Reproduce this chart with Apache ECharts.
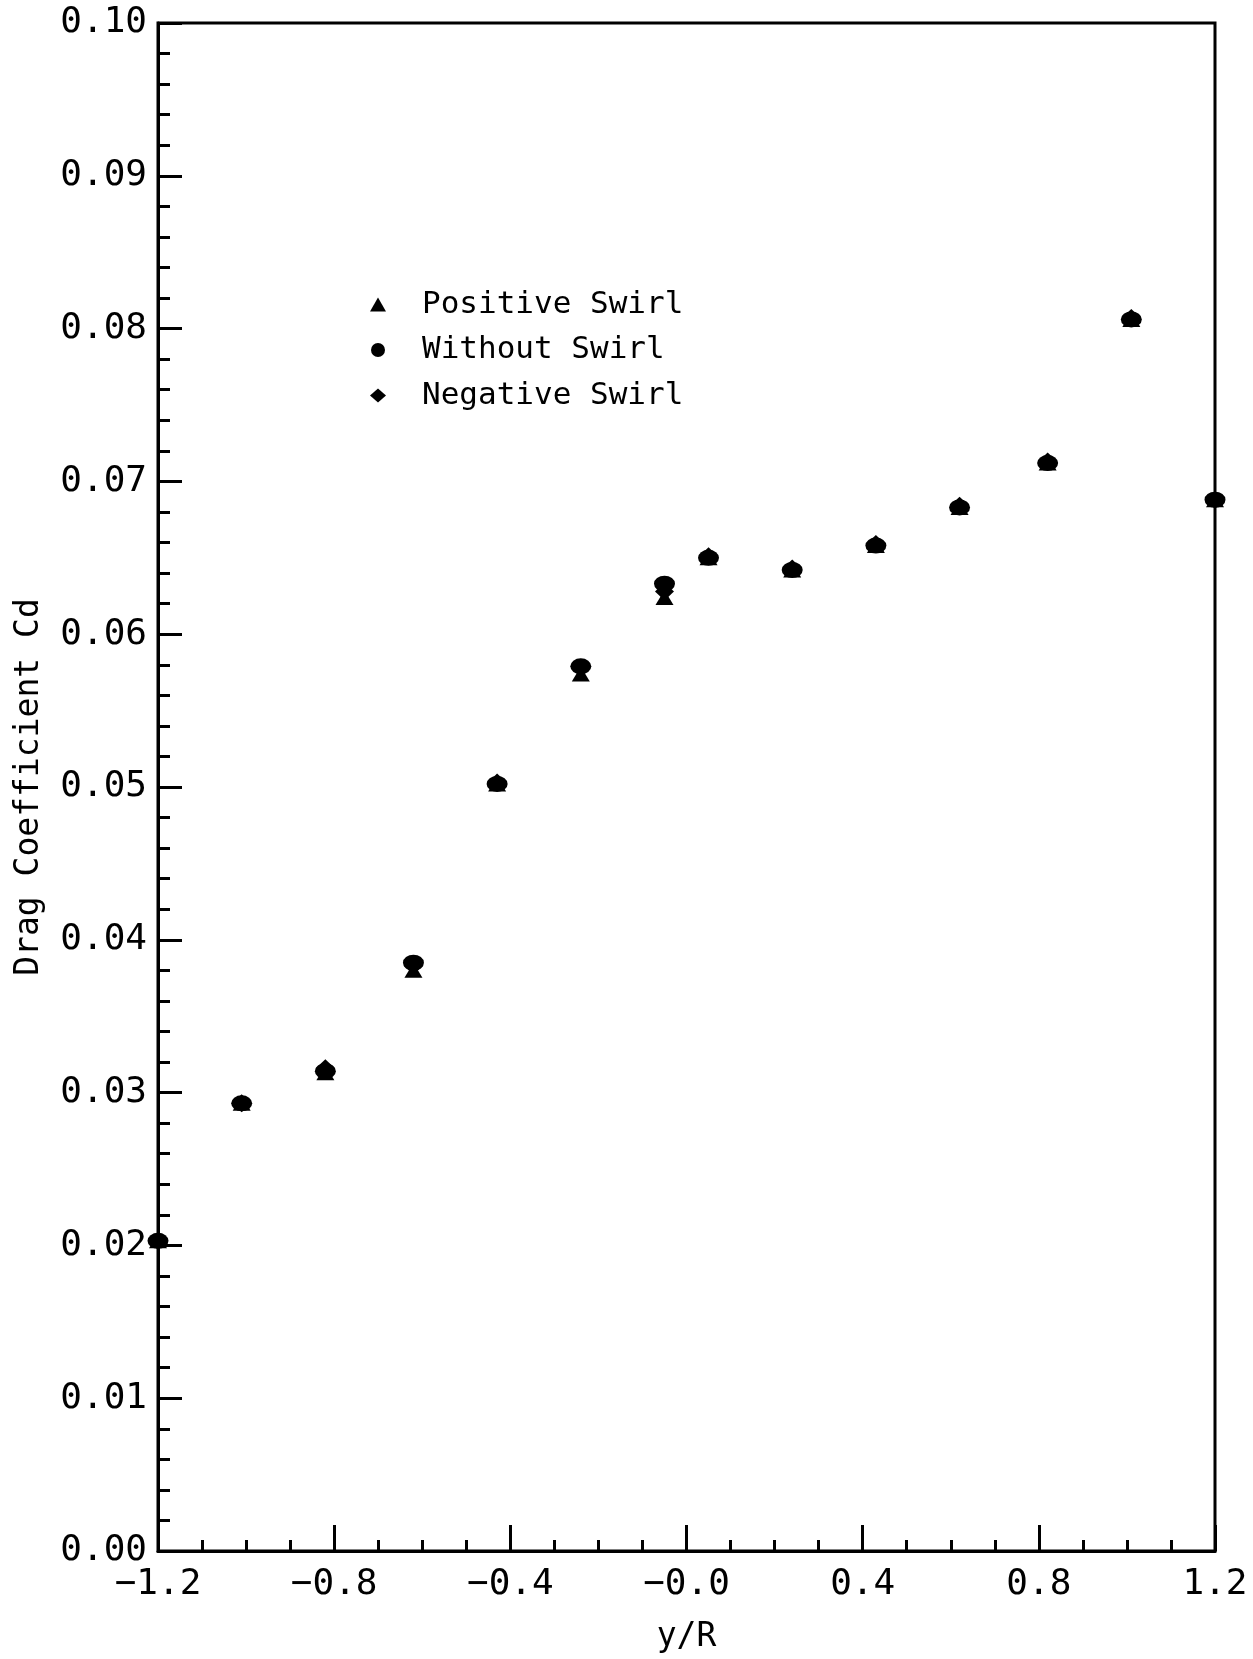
<!DOCTYPE html>
<html>
<head>
<meta charset="utf-8">
<script src="https://cdn.jsdelivr.net/npm/echarts@6/dist/echarts.min.js"></script>
<style>
html,body{margin:0;padding:0;background:#fff;}
#chart{width:1253px;height:1659px;}
</style>
</head>
<body>
<div id="chart"></div>
<script>
// Data
var yR = [-1.2, -1.01, -0.82, -0.62, -0.43, -0.24, -0.05, 0.05, 0.24, 0.43, 0.62, 0.82, 1.01, 1.2];
var positiveSwirl = [0.0203, 0.0293, 0.0313, 0.0380, 0.0502, 0.0574, 0.0624, 0.0650, 0.0642, 0.0658, 0.0683, 0.0712, 0.0806, 0.0688];
var withoutSwirl  = [0.0203, 0.0293, 0.0314, 0.0385, 0.0502, 0.0579, 0.0633, 0.0650, 0.0642, 0.0658, 0.0683, 0.0712, 0.0806, 0.0688];
var negativeSwirl = [0.0203, 0.0293, 0.0316, 0.0383, 0.0503, 0.0578, 0.0628, 0.0651, 0.0643, 0.0659, 0.0684, 0.0713, 0.0807, 0.0688];
var seriesNames = ['Positive Swirl', 'Without Swirl', 'Negative Swirl'];
var xTickLabels = {'-1.2':'\u22121.2','-0.8':'\u22120.8','-0.4':'\u22120.4','0.0':'\u22120.0','0.4':'0.4','0.8':'0.8','1.2':'1.2'};

function pairs(xs, ys){ return xs.map(function(x,i){ return [x, ys[i]]; }); }

var FONT = 'DejaVu Sans Mono';
var chart = echarts.init(document.getElementById('chart'), null, {renderer:'canvas'});
var option = {
  animation: false,
  backgroundColor: '#fff',
  grid: {left:158, top:23, right:38, bottom:103, show:true, borderColor:'#000', borderWidth:3, backgroundColor:'transparent'},
  legend: {
    orient:'vertical', left:365, top:284, itemGap:14.5, itemWidth:16, itemHeight:14,
    data: [
      {name: seriesNames[0], icon:'triangle'},
      {name: seriesNames[1], icon:'circle'},
      {name: seriesNames[2], icon:'diamond'}
    ],
    textStyle:{fontFamily:FONT, fontSize:31, color:'#000', lineHeight:30, padding:[0,0,0,31]}
  },
  xAxis: {
    type:'value', min:-1.2, max:1.2, interval:0.4,
    name:'y/R', nameLocation:'middle', nameGap:70,
    nameTextStyle:{fontFamily:FONT, fontSize:33, color:'#000'},
    axisLine:{onZero:false, lineStyle:{color:'#000', width:3}},
    axisTick:{inside:true, length:26, lineStyle:{color:'#000', width:3}},
    minorTick:{show:true, splitNumber:4, length:11, lineStyle:{color:'#000', width:3}},
    splitLine:{show:false},
    axisLabel:{fontFamily:FONT, fontSize:36, color:'#000', margin:16,
      formatter:function(v){ var k=(Math.round(v*10)/10).toFixed(1); if(k==='-0.0') k='0.0'; return xTickLabels[k]!==undefined?xTickLabels[k]:k; }}
  },
  yAxis: {
    type:'value', min:0, max:0.10, interval:0.01,
    name:'Drag Coefficient Cd', nameLocation:'middle', nameGap:112, nameRotate:90,
    nameTextStyle:{fontFamily:FONT, fontSize:33, color:'#000'},
    axisLine:{onZero:false, lineStyle:{color:'#000', width:3}},
    axisTick:{inside:true, length:24, lineStyle:{color:'#000', width:3}},
    minorTick:{show:true, splitNumber:5, length:12, lineStyle:{color:'#000', width:3}},
    splitLine:{show:false},
    axisLabel:{fontFamily:FONT, fontSize:36, color:'#000', margin:11,
      formatter:function(v){ return v.toFixed(2); }}
  },
  series: [
    {name:seriesNames[0], type:'scatter', data:pairs(yR, positiveSwirl), symbol:'triangle', symbolSize:[18,15], clip:false,
     itemStyle:{color:'#000', opacity:1}},
    {name:seriesNames[1], type:'scatter', data:pairs(yR, withoutSwirl), symbol:'circle', symbolSize:[21,16], clip:false,
     itemStyle:{color:'#000', opacity:1}},
    {name:seriesNames[2], type:'scatter', data:pairs(yR, negativeSwirl), symbol:'diamond', symbolSize:[19,18], clip:false,
     itemStyle:{color:'#000', opacity:1}}
  ]
};
chart.setOption(option);
</script>
</body>
</html>
